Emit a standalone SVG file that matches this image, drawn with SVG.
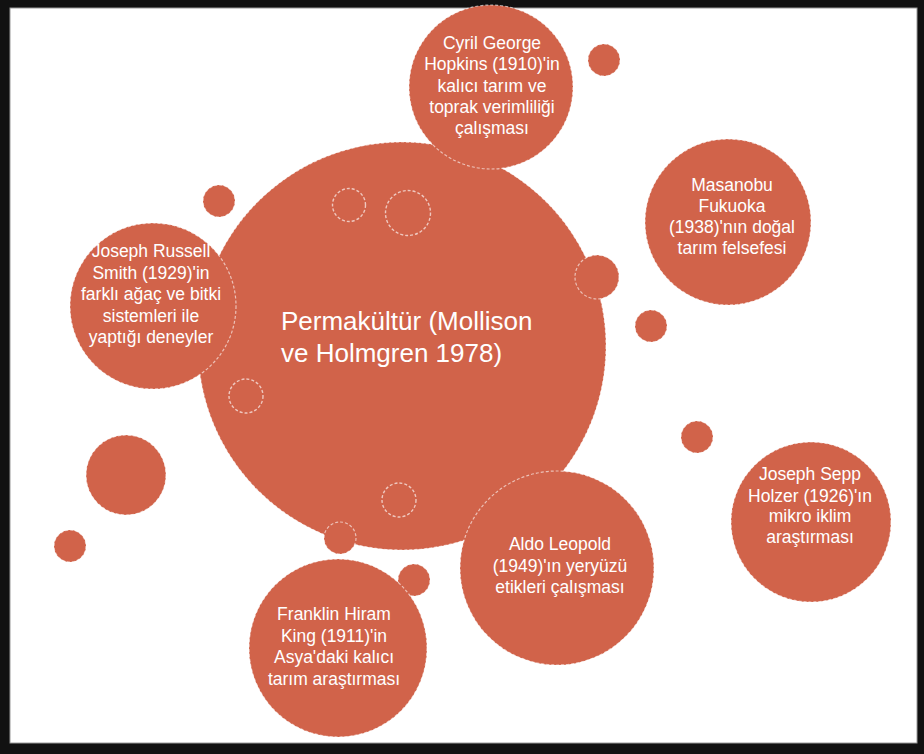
<svg xmlns="http://www.w3.org/2000/svg" width="924" height="754" viewBox="0 0 924 754">
<style>
.c{fill:#D1634A;stroke:#ffffff;stroke-opacity:0.6;stroke-width:1.2;stroke-dasharray:3 2}
.d{fill:none;stroke:#ffffff;stroke-opacity:0.65;stroke-width:1.4;stroke-dasharray:3 2}
.t{font-family:"Liberation Sans",Arial,sans-serif;font-size:17.5px;fill:#ffffff;text-anchor:middle}
.m{font-family:"Liberation Sans",Arial,sans-serif;font-size:26px;fill:#ffffff}
</style>
<rect x="0" y="0" width="924" height="754" fill="#111111"/>
<rect x="10" y="8" width="907" height="735" fill="#ffffff" stroke="#9a9a9a" stroke-width="1"/>
<g id="main">
<circle class="c" cx="402" cy="346" r="204"/>
<text class="m"><tspan x="281" y="330">Permakültür (Mollison</tspan><tspan x="281" y="362">ve Holmgren 1978)</tspan></text>
</g>
<g id="decor">
<circle class="c" cx="219" cy="201" r="16"/>
<circle class="c" cx="604" cy="60" r="16"/>
<circle class="c" cx="597" cy="277" r="22"/>
<circle class="c" cx="651" cy="326" r="16"/>
<circle class="c" cx="697" cy="437" r="16"/>
<circle class="c" cx="126" cy="475" r="40"/>
<circle class="c" cx="70" cy="546" r="16"/>
<circle class="c" cx="340" cy="538" r="16"/>
<circle class="c" cx="414" cy="580" r="16"/>
<circle class="d" cx="349" cy="205" r="16.5"/>
<circle class="d" cx="408" cy="213" r="22.5"/>
<circle class="d" cx="246" cy="396" r="17"/>
<circle class="d" cx="399" cy="500" r="17"/>
</g>
<g id="hopkins">
<circle class="c" cx="491" cy="87" r="82"/>
<text class="t"><tspan x="492" y="49">Cyril George</tspan><tspan x="492" y="70">Hopkins (1910)'in</tspan><tspan x="492" y="91.5">kalıcı tarım ve</tspan><tspan x="492" y="113">toprak verimliliği</tspan><tspan x="492" y="134">çalışması</tspan></text>
</g>
<g id="fukuoka">
<circle class="c" cx="728" cy="222" r="83"/>
<text class="t"><tspan x="732" y="191">Masanobu</tspan><tspan x="732" y="212">Fukuoka</tspan><tspan x="732" y="233">(1938)'nın doğal</tspan><tspan x="732" y="254">tarım felsefesi</tspan></text>
</g>
<g id="smith">
<circle class="c" cx="153" cy="306" r="83"/>
<text class="t"><tspan x="151" y="257">Joseph Russell</tspan><tspan x="151" y="279">Smith (1929)'in</tspan><tspan x="151" y="300">farklı ağaç ve bitki</tspan><tspan x="151" y="322">sistemleri ile</tspan><tspan x="151" y="343">yaptığı deneyler</tspan></text>
</g>
<g id="holzer">
<circle class="c" cx="811" cy="522" r="80"/>
<text class="t"><tspan x="810" y="480">Joseph Sepp</tspan><tspan x="810" y="502">Holzer (1926)'ın</tspan><tspan x="810" y="522">mikro iklim</tspan><tspan x="810" y="543">araştırması</tspan></text>
</g>
<g id="leopold">
<circle class="c" cx="557" cy="568" r="97"/>
<text class="t"><tspan x="560" y="550">Aldo Leopold</tspan><tspan x="560" y="572">(1949)'ın yeryüzü</tspan><tspan x="560" y="593">etikleri çalışması</tspan></text>
</g>
<g id="king">
<circle class="c" cx="338" cy="648" r="89"/>
<text class="t"><tspan x="334" y="620">Franklin Hiram</tspan><tspan x="334" y="642">King (1911)'in</tspan><tspan x="334" y="663">Asya'daki kalıcı</tspan><tspan x="334" y="685">tarım araştırması</tspan></text>
</g>
<g id="connectors"/>
</svg>
